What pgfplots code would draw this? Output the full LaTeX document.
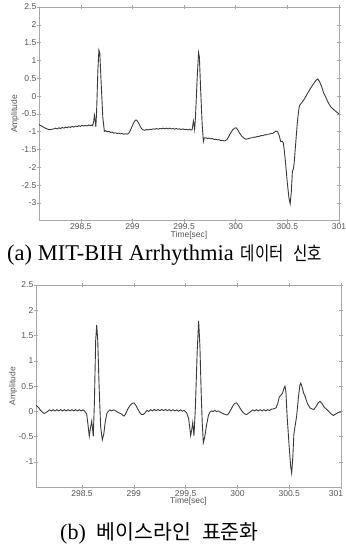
\documentclass[border=0pt]{standalone}
\usepackage{pgfplots}
\pgfplotsset{compat=1.18}
\usepackage{fontspec}
\setmainfont{Liberation Serif}
\setsansfont{Liberation Sans}
\newfontfamily\kr{Noto Sans CJK KR}
\definecolor{trace}{HTML}{3A3A3A}
\definecolor{frame}{HTML}{A8A8A8}
\definecolor{lbl}{HTML}{555555}
\pgfplotsset{ecg/.style={
  scale only axis,
  axis line style={frame, line width=0.6pt},
  every tick/.style={frame, line width=0.5pt},
  tick align=center, major tick length=4pt,
  xtick={298.5,299,299.5,300,300.5,301},
  /pgf/number format/assume math mode=true,
  tick label style={font=\sffamily\fontsize{8.5}{9}\selectfont, text=lbl},
  xticklabel style={inner sep=1pt},
  yticklabel style={inner sep=0.5pt},
  label style={font=\sffamily\fontsize{8.5}{9}\selectfont, text=lbl},
  xlabel={Time[sec]}, ylabel={Amplitude},
  xlabel style={at={(axis description cs:0.5,0)}, anchor=center, inner sep=0pt, yshift=-14.2pt},
  clip=true,
}}
\begin{document}
\begin{tikzpicture}
\path[use as bounding box] (0,0) rectangle (346pt,550pt);
\begin{axis}[ecg, at={(39pt,329.2pt)}, anchor=south west, width=300pt, height=213.8pt,
  xmin=298.095, xmax=301, ymin=-3.5, ymax=2.5,
  xticklabels={298.5,299,299.5,300,300.5,301},
  ytick={-3,-2.5,-2,-1.5,-1,-0.5,0,0.5,1,1.5,2,2.5},
  yticklabels={-3,-2.5,-2,-1.5,-1,-0.5,0,0.5,1,1.5,2,2.5},
  ylabel style={at={(axis description cs:-0.08,0.5)}, anchor=center, inner sep=0pt}]
\addplot[trace, line width=0.9pt] coordinates {
(298.095,-0.80) (298.12,-0.84) (298.15,-0.89) (298.18,-0.93) (298.20,-0.94) (298.22,-0.93)
(298.24,-0.92) (298.256,-0.90) (298.272,-0.92) (298.288,-0.89) (298.304,-0.91) (298.32,-0.88)
(298.336,-0.90) (298.352,-0.87) (298.368,-0.89) (298.384,-0.86) (298.40,-0.88) (298.416,-0.85)
(298.432,-0.87) (298.448,-0.84) (298.464,-0.86) (298.48,-0.83) (298.496,-0.85) (298.512,-0.82)
(298.528,-0.84) (298.544,-0.82) (298.56,-0.84) (298.576,-0.81) (298.592,-0.83) (298.608,-0.81)
(298.615,-0.83) (298.625,-0.70) (298.632,-0.54) (298.64,-0.70) (298.645,-0.86) (298.652,-0.5)
(298.665,0.7) (298.675,1.29) (298.684,1.2) (298.698,0.3) (298.713,-0.6) (298.728,-0.99)
(298.74,-0.97) (298.756,-1.00) (298.772,-0.99) (298.788,-1.02) (298.804,-1.01) (298.82,-1.04)
(298.836,-1.03) (298.852,-1.05) (298.868,-1.04) (298.884,-1.06) (298.90,-1.05) (298.916,-1.07)
(298.932,-1.06) (298.948,-1.07) (298.965,-1.04) (298.98,-0.96) (298.995,-0.86) (299.01,-0.76)
(299.025,-0.69) (299.035,-0.67) (299.048,-0.70) (299.06,-0.76) (299.075,-0.85) (299.09,-0.92)
(299.106,-0.95) (299.12,-0.96) (299.136,-0.94) (299.152,-0.95) (299.168,-0.93) (299.184,-0.94)
(299.20,-0.92) (299.216,-0.93) (299.232,-0.91) (299.248,-0.93) (299.264,-0.91) (299.28,-0.92)
(299.296,-0.90) (299.312,-0.92) (299.328,-0.90) (299.344,-0.92) (299.36,-0.90) (299.376,-0.92)
(299.392,-0.91) (299.408,-0.93) (299.424,-0.91) (299.44,-0.93) (299.456,-0.92) (299.472,-0.94)
(299.488,-0.92) (299.504,-0.94) (299.52,-0.93) (299.536,-0.95) (299.552,-0.93) (299.568,-0.95)
(299.578,-0.94) (299.585,-0.80) (299.59,-0.70) (299.596,-0.80) (299.602,-0.93) (299.61,-0.6)
(299.625,0.4) (299.64,1.22) (299.648,1.1) (299.66,0.2) (299.675,-0.8) (299.687,-1.27)
(299.695,-1.18) (299.71,-1.17) (299.726,-1.19) (299.742,-1.18) (299.758,-1.20) (299.774,-1.19)
(299.79,-1.22) (299.806,-1.21) (299.822,-1.23) (299.838,-1.22) (299.854,-1.25) (299.87,-1.24)
(299.886,-1.26) (299.90,-1.25) (299.915,-1.22) (299.93,-1.15) (299.95,-1.04) (299.97,-0.95)
(299.99,-0.90) (300.004,-0.89) (300.02,-0.95) (300.04,-1.05) (300.06,-1.13) (300.08,-1.18)
(300.10,-1.21) (300.116,-1.20) (300.132,-1.19) (300.148,-1.17) (300.164,-1.17) (300.18,-1.15)
(300.196,-1.15) (300.212,-1.13) (300.228,-1.13) (300.244,-1.11) (300.26,-1.11) (300.276,-1.09)
(300.292,-1.09) (300.308,-1.07) (300.324,-1.07) (300.34,-1.05) (300.356,-1.05) (300.372,-1.02)
(300.39,-0.98) (300.405,-1.00) (300.42,-1.10) (300.435,-1.27) (300.45,-1.27) (300.462,-1.32)
(300.48,-1.8) (300.50,-2.45) (300.515,-2.85) (300.527,-3.02) (300.538,-2.7) (300.549,-2.1)
(300.558,-2.05) (300.566,-1.88) (300.58,-1.35) (300.595,-0.8) (300.607,-0.45) (300.617,-0.27)
(300.64,-0.18) (300.663,-0.09) (300.69,0.05) (300.72,0.20) (300.75,0.33) (300.78,0.45)
(300.792,0.48) (300.81,0.42) (300.83,0.28) (300.85,0.10) (300.87,-0.02) (300.89,-0.15)
(300.915,-0.28) (300.94,-0.36) (300.965,-0.42) (301.0,-0.50)
};
\end{axis}
\begin{axis}[ecg, at={(36pt,62.7pt)}, anchor=south west, width=305pt, height=202.3pt,
  xmin=298.056, xmax=301, ymin=-1.5, ymax=2.5,
  xticklabels={298.5,299,299.5,300,300.5,{\hspace*{-10pt}301}},
  ytick={-1,-0.5,0,0.5,1,1.5,2,2.5},
  yticklabels={-1,-0.5,0,0.5,1,1.5,2,2.5},
  ylabel style={at={(axis description cs:-0.075,0.5)}, anchor=center, inner sep=0pt}]
\addplot[trace, line width=0.9pt] coordinates {
(298.056,0.12) (298.08,0.08) (298.10,0.02) (298.12,-0.02) (298.136,-0.04) (298.152,-0.02)
(298.168,0.00) (298.186,0.03) (298.204,0.01) (298.222,0.035) (298.24,0.01) (298.258,0.035)
(298.276,0.01) (298.294,0.035) (298.312,0.01) (298.33,0.035) (298.348,0.01) (298.366,0.035)
(298.384,0.01) (298.402,0.035) (298.42,0.01) (298.438,0.035) (298.456,0.01) (298.474,0.035)
(298.492,0.01) (298.51,0.03) (298.529,0.00) (298.545,-0.05) (298.56,-0.3) (298.570,-0.49)
(298.58,-0.35) (298.594,-0.19) (298.602,-0.35) (298.609,-0.49) (298.62,0.2) (298.632,1.4)
(298.642,1.71) (298.652,1.4) (298.665,0.5) (298.68,-0.3) (298.696,-0.56) (298.71,-0.45)
(298.725,-0.2) (298.74,-0.04) (298.754,0.00) (298.77,0.03) (298.786,0.01) (298.802,0.03)
(298.819,0.02) (298.84,-0.01) (298.86,-0.03) (298.88,-0.05) (298.895,-0.08) (298.908,-0.09)
(298.925,-0.03) (298.945,0.06) (298.965,0.12) (298.985,0.16) (299.002,0.17) (299.02,0.12)
(299.04,0.04) (299.06,-0.03) (299.075,-0.06) (299.092,-0.06) (299.108,-0.03) (299.126,0.02)
(299.144,0.0) (299.162,0.035) (299.18,0.01) (299.198,0.04) (299.216,0.015) (299.234,0.04)
(299.252,0.015) (299.27,0.04) (299.288,0.015) (299.306,0.04) (299.324,0.015) (299.342,0.035)
(299.36,0.01) (299.378,0.035) (299.396,0.01) (299.414,0.03) (299.432,0.005) (299.45,0.03)
(299.468,0.005) (299.486,0.02) (299.511,-0.03) (299.53,-0.15) (299.549,-0.48) (299.56,-0.35)
(299.569,-0.22) (299.575,-0.35) (299.581,-0.48) (299.595,0.1) (299.612,1.2) (299.626,1.79)
(299.638,1.3) (299.65,0.4) (299.66,-0.2) (299.671,-0.62) (299.685,-0.5) (299.70,-0.3)
(299.72,-0.08) (299.736,-0.01) (299.75,0.01) (299.766,0.00) (299.782,0.02) (299.798,0.00)
(299.816,0.01) (299.84,-0.02) (299.86,-0.04) (299.88,-0.06) (299.902,-0.07) (299.92,-0.03)
(299.94,0.05) (299.96,0.12) (299.975,0.16) (299.993,0.17) (300.01,0.12) (300.03,0.05)
(300.05,-0.01) (300.07,-0.05) (300.09,-0.06) (300.11,-0.03) (300.13,0.00) (300.148,0.03)
(300.166,0.01) (300.184,0.035) (300.202,0.01) (300.22,0.035) (300.238,0.01) (300.256,0.035)
(300.274,0.01) (300.292,0.035) (300.31,0.02) (300.328,0.045) (300.347,0.05) (300.373,0.07)
(300.39,0.16) (300.405,0.29) (300.42,0.32) (300.435,0.36) (300.45,0.46) (300.459,0.50)
(300.468,0.40) (300.48,-0.1) (300.50,-0.7) (300.515,-1.1) (300.524,-1.22) (300.535,-0.9)
(300.545,-0.45) (300.549,-0.39) (300.56,-0.25) (300.572,-0.09) (300.59,0.3) (300.603,0.52)
(300.611,0.56) (300.625,0.48) (300.64,0.36) (300.653,0.30) (300.675,0.16) (300.701,0.07)
(300.72,0.05) (300.739,0.04) (300.76,0.10) (300.78,0.17) (300.797,0.20) (300.815,0.16)
(300.84,0.08) (300.868,0.03) (300.9,-0.04) (300.926,-0.08) (300.95,-0.05) (300.975,-0.02)
(301.0,-0.01)
};
\end{axis}
\node[anchor=base west, inner sep=0pt] at (7pt,289pt)
  {\fontsize{22.5}{24}\selectfont (a) MIT-BIH Arrhythmia\hspace{7pt}\scalebox{0.82}[1]{\kr\fontsize{19}{21}\selectfont 데이터\hspace{12pt}신호}};
\node[anchor=base west, inner sep=0pt] at (60pt,11pt)
  {\fontsize{22}{24}\selectfont (b)\hspace{11pt}{\kr\fontsize{20.5}{22}\selectfont 베이스라인\hspace{11pt}표준화}};
\end{tikzpicture}
\end{document}
